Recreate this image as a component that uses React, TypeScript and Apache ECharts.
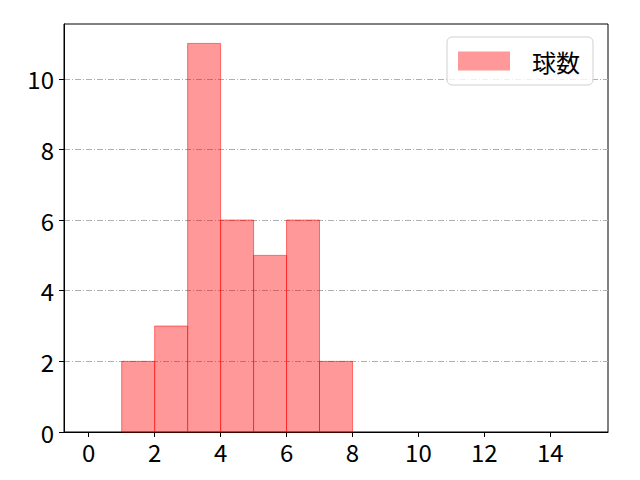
import { useEffect, useRef } from 'react';
import * as echarts from 'echarts';

// histogram bins (left edges, width 1) and counts
const binStarts = [1, 2, 3, 4, 5, 6, 7];
const counts = [2, 3, 11, 6, 5, 6, 2];
const xTicks = [0, 2, 4, 6, 8, 10, 12, 14];
const yTicks = [0, 2, 4, 6, 8, 10];
const seriesName = '球数';

const FONT = '"Noto Sans CJK JP", "Noto Sans", sans-serif';

export default function App() {
  const elRef = useRef<HTMLDivElement>(null);

  useEffect(() => {
    const el = elRef.current;
    if (!el) return;
    const chart = echarts.init(el, undefined, { renderer: 'svg' });

    const data = binStarts.map((x, i) => [x, x + 1, counts[i]]);

    chart.setOption({
      animation: false,
      textStyle: { fontFamily: FONT },
      grid: {
        left: 64,
        right: 32,
        top: 24,
        bottom: 48,
        show: true,
        borderColor: '#000',
        borderWidth: 1,
        backgroundColor: 'transparent',
      },
      legend: {
        left: 447,
        top: 37,
        orient: 'vertical',
        padding: [12, 13, 12, 11],
        itemWidth: 52,
        itemHeight: 19,
        itemGap: 10,
        backgroundColor: 'rgba(255,255,255,0.8)',
        borderColor: '#d0d0d0',
        borderWidth: 1,
        borderRadius: 5,
        textStyle: { fontSize: 24, color: '#000', padding: [0, 0, 0, 17], fontFamily: FONT },
        data: [{ name: seriesName, icon: 'rect' }],
      },
      xAxis: {
        type: 'value',
        min: -0.75,
        max: 15.75,
        axisLine: { show: true, onZero: false, lineStyle: { color: '#000', width: 1 } },
        axisTick: { show: true, inside: false, length: 5, customValues: xTicks, lineStyle: { color: '#000' } },
        axisLabel: { customValues: xTicks, fontSize: 24, color: '#000', margin: 7, fontFamily: FONT },
        splitLine: { show: false },
      },
      yAxis: {
        type: 'value',
        min: 0,
        max: 11.55,
        axisLine: { show: true, onZero: false, lineStyle: { color: '#000', width: 1 } },
        axisTick: { show: true, inside: false, length: 5, customValues: yTicks, lineStyle: { color: '#000' } },
        axisLabel: { customValues: yTicks, fontSize: 24, color: '#000', margin: 10, fontFamily: FONT },
        splitLine: {
          show: true,
          lineStyle: { color: '#b0b0b0', width: 1, type: [6, 2, 1, 2] },
        },
      },
      series: [
        {
          type: 'custom',
          name: seriesName,
          itemStyle: { color: 'rgba(255,0,0,0.4)', borderColor: 'rgba(255,0,0,0.5)' },
          encode: { x: [0, 1], y: 2 },
          data,
          renderItem: (params: any, api: any) => {
            const p0 = api.coord([api.value(0), api.value(2)]);
            const p1 = api.coord([api.value(1), 0]);
            return {
              type: 'rect',
              shape: { x: p0[0], y: p0[1], width: p1[0] - p0[0], height: p1[1] - p0[1] },
              style: { fill: 'rgba(255,0,0,0.4)', stroke: 'rgba(255,0,0,0.5)', lineWidth: 1 },
            };
          },
        },
      ],
    });

    return () => chart.dispose();
  }, []);

  return <div ref={elRef} style={{ width: 640, height: 480, margin: -8 }} />;
}
